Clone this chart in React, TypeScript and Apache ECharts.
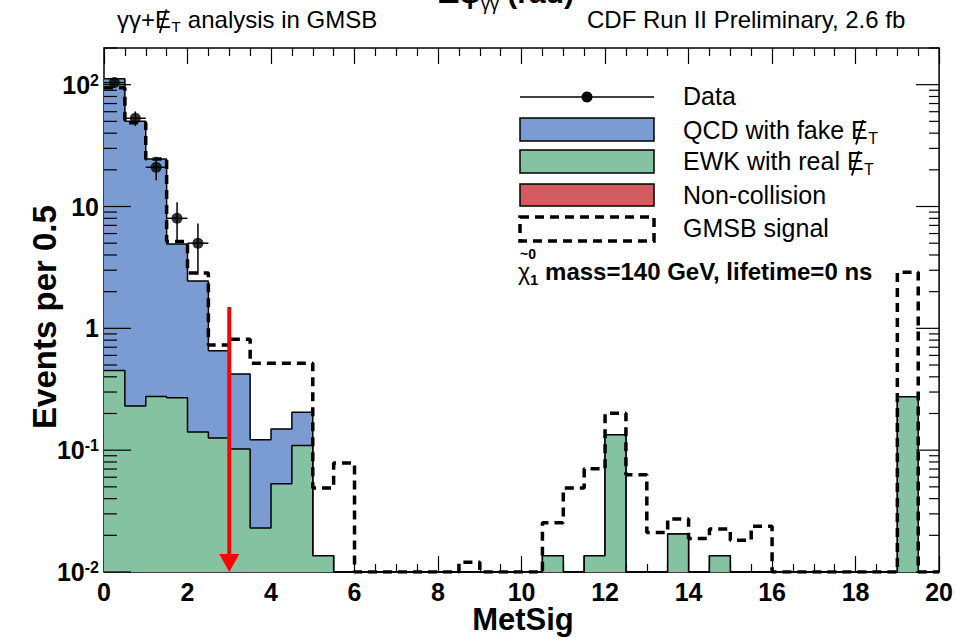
import React, { useEffect, useRef } from "react";
import * as echarts from "echarts";

// Histogram binning of MetSig
const BIN_WIDTH = 0.5;
const X_MIN = 0;
const X_MAX = 20;
const Y_MIN = 0.01;
const Y_MAX = 200;

// Background estimates, events per 0.5 (40 bins from 0 to 20)
const qcdFakeMet = [
  111.5, 49.8, 24.3, 4.66, 2.31, 0.528, 0.319, 0.099, 0.096, 0.096,
  0, 0, 0, 0, 0, 0, 0, 0, 0, 0,
  0, 0, 0, 0, 0, 0, 0, 0, 0, 0,
  0, 0, 0, 0, 0, 0, 0, 0, 0, 0,
];
const ewkRealMet = [
  0.451, 0.23, 0.276, 0.269, 0.141, 0.126, 0.102, 0.023, 0.053, 0.109,
  0.0136, 0, 0, 0, 0, 0, 0, 0, 0, 0,
  0, 0.0136, 0, 0.0136, 0.134, 0, 0, 0.0205, 0, 0.0136,
  0, 0, 0, 0, 0, 0, 0, 0, 0.274, 0,
];
const nonCollision = [
  0, 0, 0, 0, 0, 0, 0, 0, 0, 0,
  0, 0, 0, 0, 0, 0, 0, 0, 0, 0,
  0, 0, 0, 0, 0, 0, 0, 0, 0, 0,
  0, 0, 0, 0, 0, 0, 0, 0, 0, 0,
];
// GMSB signal, m(chi1) = 140 GeV, lifetime 0 ns
const gmsbSignal = [
  94.5, 48.8, 24.5, 5.15, 2.85, 0.73, 0.815, 0.518, 0.518, 0.518,
  0.0489, 0.0784, 0, 0, 0, 0, 0, 0.012, 0, 0,
  0, 0.0254, 0.0489, 0.0703, 0.201, 0.0628, 0.0211, 0.0272, 0.0188, 0.0225,
  0.0182, 0.0237, 0, 0, 0, 0, 0, 0, 2.89, 0,
];

// Observed data
const dataCenters = [0.25, 0.75, 1.25, 1.75, 2.25];
const dataCounts = [104, 53, 21, 8, 5];
const dataErrors = [10.2, 7.28, 4.58, 2.83, 2.24];

// Cut position
const cutValue = 3.0;
const cutArrowTop = 1.5;

// Axis ticks
const xLabelStep = 2;
const yDecades = [-2, -1, 0, 1, 2];
const yMantissas = [1, 2, 3, 4, 5, 6, 7, 8, 9];

const FONT = "'Liberation Sans', Arial, Helvetica, sans-serif";
const BLUE = "#7b9bd3";
const GREEN = "#84c2a2";
const RED = "#d25c5e";

const clampLog = (v: number) => Math.max(v, Y_MIN);

function stepPoints(values: number[]) {
  const pts: number[][] = values.map((v, i) => [X_MIN + i * BIN_WIDTH, clampLog(v)]);
  pts.push([X_MAX, clampLog(values[values.length - 1])]);
  return pts;
}

const totalBackground = qcdFakeMet.map((v, i) => v + ewkRealMet[i] + nonCollision[i]);

function supLabel(v: number) {
  const p = Math.round(Math.log10(v));
  if (Math.abs(Math.log10(v) - p) > 1e-6) return "";
  if (p === 0) return "{b|1}";
  if (p === 1) return "{b|10}";
  return `{b|10}{sup|${p}}`;
}

let measureCtx: CanvasRenderingContext2D | null = null;
function textWidth(text: string, font: string) {
  if (!measureCtx) measureCtx = document.createElement("canvas").getContext("2d");
  if (!measureCtx) return text.length * 10;
  measureCtx.font = font;
  return measureCtx.measureText(text).width;
}

// Text with a slashed E and subscript T (missing transverse energy)
function metText(x: number, y: number, before: string, after: string, size: number) {
  const font = `${size}px ${FONT}`;
  const subFont = `${Math.round(size * 0.62)}px ${FONT}`;
  const w0 = textWidth(before, font);
  const wE = textWidth("E", font);
  const xE = x + w0;
  const cap = size * 0.72;
  const els: any[] = [
    { type: "text", x, y, style: { text: before, font, fill: "#000", verticalAlign: "middle" } },
    { type: "text", x: xE, y, style: { text: "E", font, fill: "#000", verticalAlign: "middle" } },
    {
      type: "line",
      shape: { x1: xE + wE * 0.3, y1: y + cap * 0.5 + size * 0.22, x2: xE + wE * 0.72, y2: y - cap * 0.5 - size * 0.04 },
      style: { stroke: "#000", lineWidth: size * 0.075 },
    },
    {
      type: "text",
      x: xE + wE + 0.5,
      y: y + size * 0.02,
      style: { text: "T", font: subFont, fill: "#000", verticalAlign: "top" },
    },
  ];
  if (after) {
    const wT = textWidth("T", subFont);
    els.push({ type: "text", x: xE + wE + wT + 1, y, style: { text: after, font, fill: "#000", verticalAlign: "middle" } });
  }
  return els;
}

export default function App() {
  const ref = useRef<HTMLDivElement>(null);

  useEffect(() => {
    if (!ref.current) return;
    const chart = echarts.init(ref.current, null, { renderer: "svg" });

    const yTicks: number[][] = [];
    yDecades.forEach((d) => {
      yMantissas.forEach((m) => {
        const v = m * Math.pow(10, d);
        if (v <= Y_MAX * 1.0001) yTicks.push([X_MIN, v, m === 1 ? 1 : 0]);
      });
    });

    const xAxisBase = {
      type: "value",
      min: X_MIN,
      max: X_MAX,
      interval: xLabelStep,
      axisLine: { show: false },
      splitLine: { show: false },
      axisTick: { show: true, inside: true, length: 16, lineStyle: { color: "#000", width: 1.2 } },
      minorTick: { show: true, splitNumber: 4, length: 8, lineStyle: { color: "#000", width: 1.2 } },
    };

    const option: any = {
      animation: false,
      backgroundColor: "#fff",
      grid: {
        left: 104,
        right: 13,
        top: 48,
        bottom: 66,
        show: true,
        borderColor: "#000",
        borderWidth: 1.5,
        backgroundColor: "transparent",
      },
      xAxis: [
        {
          ...xAxisBase,
          position: "bottom",
          axisLabel: {
            show: true,
            margin: 7,
            color: "#000",
            fontFamily: FONT,
            fontWeight: "bold",
            fontSize: 25,
          },
        },
        {
          ...xAxisBase,
          position: "top",
          axisLabel: { show: false },
        },
      ],
      yAxis: {
        type: "log",
        logBase: 10,
        min: Y_MIN,
        max: Y_MAX,
        axisLine: { show: false },
        axisTick: { show: false },
        splitLine: { show: false },
        minorTick: { show: false },
        axisLabel: {
          margin: 5,
          showMaxLabel: false,
          formatter: (v: number) => supLabel(v),
          rich: {
            b: { fontFamily: FONT, fontWeight: "bold", fontSize: 25, color: "#000", verticalAlign: "bottom" },
            sup: { fontFamily: FONT, fontWeight: "bold", fontSize: 16, color: "#000", verticalAlign: "top" },
          },
        },
      },
      series: [
        {
          name: "QCD with fake MET",
          type: "line",
          step: "end",
          symbol: "none",
          data: stepPoints(totalBackground),
          lineStyle: { color: "#000", width: 1.5 },
          areaStyle: { color: BLUE, opacity: 1, origin: "start" },
          z: 2,
        },
        {
          name: "EWK with real MET",
          type: "line",
          step: "end",
          symbol: "none",
          data: stepPoints(ewkRealMet),
          lineStyle: { color: "#000", width: 1.5 },
          areaStyle: { color: GREEN, opacity: 1, origin: "start" },
          z: 3,
        },
        {
          name: "GMSB signal",
          type: "line",
          step: "end",
          symbol: "none",
          data: stepPoints(gmsbSignal),
          lineStyle: { color: "#000", width: 3.5, type: [9, 6] },
          z: 4,
        },
        {
          name: "cut",
          type: "custom",
          data: [[cutValue, cutArrowTop]],
          z: 5,
          renderItem: (params: any, api: any) => {
            const top = api.coord([api.value(0), api.value(1)]);
            const bottom = api.coord([api.value(0), Y_MIN]);
            const head = 18;
            return {
              type: "group",
              children: [
                {
                  type: "line",
                  shape: { x1: top[0], y1: top[1], x2: bottom[0], y2: bottom[1] - head + 2 },
                  style: { stroke: "#ff0000", lineWidth: 4 },
                },
                {
                  type: "polygon",
                  shape: {
                    points: [
                      [bottom[0] - 10, bottom[1] - head],
                      [bottom[0] + 10, bottom[1] - head],
                      [bottom[0], bottom[1]],
                    ],
                  },
                  style: { fill: "#ff0000" },
                },
              ],
            };
          },
        },
        {
          name: "Data errors",
          type: "custom",
          data: dataCenters.map((x, i) => [x, dataCounts[i], dataErrors[i]]),
          z: 6,
          renderItem: (params: any, api: any) => {
            const x = api.value(0);
            const y = api.value(1);
            const e = api.value(2);
            const lo = api.coord([x, clampLog(y - e)]);
            const hi = api.coord([x, y + e]);
            const l = api.coord([x - BIN_WIDTH / 2, y]);
            const r = api.coord([x + BIN_WIDTH / 2, y]);
            return {
              type: "group",
              children: [
                { type: "line", shape: { x1: lo[0], y1: lo[1], x2: hi[0], y2: hi[1] }, style: { stroke: "#000", lineWidth: 1.5 } },
                { type: "line", shape: { x1: l[0], y1: l[1], x2: r[0], y2: r[1] }, style: { stroke: "#000", lineWidth: 1.5 } },
              ],
            };
          },
        },
        {
          name: "Data",
          type: "scatter",
          symbol: "circle",
          symbolSize: 11,
          itemStyle: { color: "#000" },
          data: dataCenters.map((x, i) => [x, dataCounts[i]]),
          z: 7,
        },
        {
          name: "ticks",
          type: "custom",
          data: yTicks,
          z: 8,
          silent: true,
          renderItem: (params: any, api: any) => {
            const v = api.value(1);
            const major = api.value(2) === 1;
            const pl = api.coord([X_MIN, v]);
            const pr = api.coord([X_MAX, v]);
            const ll = major ? 27 : 13;
            const lr = major ? 23 : 10;
            return {
              type: "group",
              children: [
                { type: "line", shape: { x1: pl[0], y1: pl[1], x2: pl[0] + ll, y2: pl[1] }, style: { stroke: "#000", lineWidth: 1.2 } },
                { type: "line", shape: { x1: pr[0], y1: pr[1], x2: pr[0] - lr, y2: pr[1] }, style: { stroke: "#000", lineWidth: 1.2 } },
              ],
            };
          },
        },
      ],
      graphic: [
        // header texts
        {
          type: "text",
          x: 438,
          y: 13,
          style: {
            text: "{b|Δφ}{s|γγ}{b| (rad)}",
            verticalAlign: "bottom",
            rich: {
              b: { fontFamily: FONT, fontWeight: "bold", fontSize: 30, fill: "#000", verticalAlign: "bottom", padding: [0, 0, 6, 0] },
              s: { fontFamily: FONT, fontSize: 18, fill: "#000", verticalAlign: "bottom" },
            },
          },
        },
        ...metText(117, 19, "γγ+", " analysis in GMSB", 24),
        {
          type: "text",
          x: 587,
          y: 19,
          style: {
            text: "CDF Run II Preliminary, 2.6 fb",
            font: `24px ${FONT}`,
            fill: "#000",
            verticalAlign: "middle",
          },
        },
        // legend
        { type: "line", shape: { x1: 520, y1: 97, x2: 654, y2: 97 }, style: { stroke: "#000", lineWidth: 1.5 } },
        { type: "circle", shape: { cx: 587, cy: 97, r: 5.5 }, style: { fill: "#000" } },
        { type: "rect", shape: { x: 520, y: 118, width: 134, height: 23 }, style: { fill: BLUE, stroke: "#000", lineWidth: 1.5 } },
        { type: "rect", shape: { x: 520, y: 150, width: 134, height: 23 }, style: { fill: GREEN, stroke: "#000", lineWidth: 1.5 } },
        { type: "rect", shape: { x: 520, y: 184, width: 134, height: 22 }, style: { fill: RED, stroke: "#000", lineWidth: 1.5 } },
        {
          type: "rect",
          shape: { x: 520, y: 217, width: 134, height: 24 },
          style: { fill: "none", stroke: "#000", lineWidth: 3.5, lineDash: [9, 6] },
        },
        { type: "text", x: 683, y: 96, style: { text: "Data", font: `25px ${FONT}`, fill: "#000", verticalAlign: "middle" } },
        ...metText(683, 130, "QCD with fake ", "", 25),
        ...metText(683, 161, "EWK with real ", "", 25),
        { type: "text", x: 683, y: 195, style: { text: "Non-collision", font: `25px ${FONT}`, fill: "#000", verticalAlign: "middle" } },
        { type: "text", x: 683, y: 228, style: { text: "GMSB signal", font: `25px ${FONT}`, fill: "#000", verticalAlign: "middle" } },
        {
          type: "text",
          x: 518,
          y: 273,
          style: {
            text: "{c|χ}{s|1}{b| mass=140 GeV, lifetime=0 ns}",
            verticalAlign: "middle",
            rich: {
              c: { fontFamily: FONT, fontSize: 23, fill: "#000", verticalAlign: "bottom", padding: [0, 0, 4, 0] },
              s: { fontFamily: FONT, fontWeight: "bold", fontSize: 15, fill: "#000", verticalAlign: "bottom" },
              b: { fontFamily: FONT, fontWeight: "bold", fontSize: 24, fill: "#000", verticalAlign: "bottom", padding: [0, 0, 4, 0] },
            },
          },
        },
        {
          type: "text",
          x: 520,
          y: 254,
          style: { text: "~0", font: `bold 14px ${FONT}`, fill: "#000", verticalAlign: "middle" },
        },
        // axis titles
        {
          type: "text",
          x: 44,
          y: 317,
          rotation: Math.PI / 2,
          style: {
            text: "Events per 0.5",
            font: `bold 33px ${FONT}`,
            fill: "#000",
            align: "center",
            verticalAlign: "middle",
          },
        },
        {
          type: "text",
          x: 523,
          y: 619,
          style: {
            text: "MetSig",
            font: `bold 31px ${FONT}`,
            fill: "#000",
            align: "center",
            verticalAlign: "middle",
          },
        },
      ],
    };

    chart.setOption(option);
    return () => chart.dispose();
  }, []);

  return (
    <div
      ref={ref}
      style={{ position: "fixed", left: 0, top: 0, width: 956, height: 638, background: "#fff" }}
    />
  );
}
